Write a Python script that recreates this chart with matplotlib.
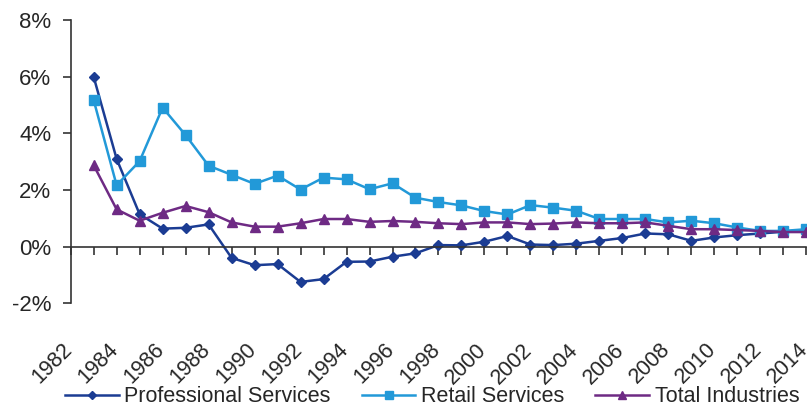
import matplotlib.pyplot as plt
import numpy as np
from matplotlib.ticker import FuncFormatter

plt.rcParams['font.family'] = ['Liberation Sans', 'DejaVu Sans']

years = list(range(1983, 2015))

professional = [6.0, 3.1, 1.15, 0.64, 0.67, 0.79, -0.39, -0.65, -0.61, -1.24,
                -1.14, -0.53, -0.52, -0.35, -0.23, 0.06, 0.05, 0.18, 0.38, 0.08,
                0.06, 0.11, 0.21, 0.31, 0.47, 0.44, 0.21, 0.33, 0.41, 0.47,
                0.53, 0.59]
retail = [5.18, 2.17, 3.02, 4.91, 3.94, 2.86, 2.54, 2.22, 2.51, 2.02,
          2.44, 2.38, 2.03, 2.24, 1.73, 1.58, 1.46, 1.26, 1.14, 1.47,
          1.38, 1.27, 0.98, 0.98, 0.98, 0.86, 0.92, 0.83, 0.68, 0.56,
          0.56, 0.62]
total = [2.88, 1.32, 0.92, 1.2, 1.44, 1.22, 0.86, 0.71, 0.71, 0.83,
         0.98, 0.98, 0.88, 0.91, 0.88, 0.83, 0.8, 0.86, 0.86, 0.8,
         0.82, 0.86, 0.83, 0.83, 0.86, 0.74, 0.62, 0.62, 0.59, 0.56,
         0.52, 0.52]

label_years = list(range(1982, 2015, 2))

c_pro = '#1B3C93'
c_ret = '#2299D8'
c_tot = '#6E2A84'
txt = '#262626'

fig = plt.figure(figsize=(8.12, 4.09), dpi=100)
ax = fig.add_axes([0.087, 0.258, 0.906, 0.693])

ax.plot(years, professional, color=c_pro, lw=1.8, marker='D', ms=5.5, label='Professional Services')
ax.plot(years, retail, color=c_ret, lw=1.8, marker='s', ms=6.5, label='Retail Services')
ax.plot(years, total, color=c_tot, lw=1.8, marker='^', ms=7.5, label='Total Industries')

ax.set_xlim(1982, 2014)
ax.set_ylim(-2, 8)

# axis line through zero, left spine only
for s in ['top', 'right']:
    ax.spines[s].set_visible(False)
ax.spines['bottom'].set_position(('data', 0))
ax.spines['bottom'].set_color('#333333')
ax.spines['left'].set_color('#333333')
ax.spines['bottom'].set_linewidth(1.2)
ax.spines['left'].set_linewidth(1.2)

ax.set_xticks(range(1982, 2015))
ax.set_xticklabels([])
ax.tick_params(axis='x', direction='out', length=6, width=1.2, color='#333333')
ax.set_yticks(range(-2, 9, 2))
ax.yaxis.set_major_formatter(FuncFormatter(lambda v, p: '%d%%' % v))
ax.tick_params(axis='y', direction='out', length=6, width=1.2, color='#333333',
               labelsize=16, labelcolor=txt, pad=8)

# year labels sit below the plot area, rotated
for yr in label_years:
    ax.annotate(str(yr), xy=(yr, 0), xycoords=('data', 'axes fraction'),
                xytext=(-1, -31), textcoords='offset points',
                rotation=45, ha='right', va='center', rotation_mode='anchor',
                fontsize=15.5, color=txt)

fig.legend(loc='center', bbox_to_anchor=(0.532, 0.03), ncol=3, frameon=False,
           fontsize=15.5, labelcolor=txt, handlelength=2.5, handletextpad=0.25,
           columnspacing=1.45, markerscale=0.8)

fig.savefig('out.png', dpi=100)
